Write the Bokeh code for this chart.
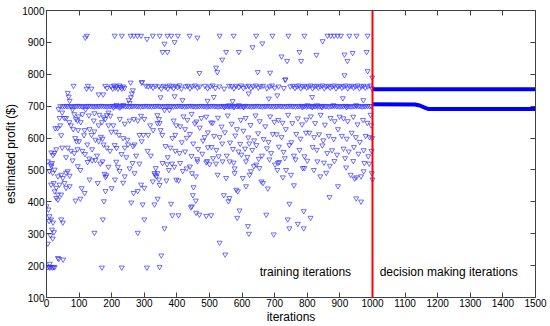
from bokeh.plotting import figure
from bokeh.models import LinearAxis, FixedTicker, Label, Span, Range1d
from bokeh.embed import file_html
from bokeh.resources import INLINE

# ---------------- data (iteration, estimated profit $) ----------------
top_pts = [
    (119, 915), (124, 921), (209, 921), (231, 921), (258, 921), (268, 921), (279, 921), (290, 921),
    (308, 911), (326, 921), (347, 921), (362, 896), (356, 870), (371, 870), (371, 921), (383, 921),
    (393, 901), (403, 921), (439, 921), (463, 915), (469, 804), (520, 821), (524, 807), (531, 921),
    (539, 846), (551, 870), (574, 921), (590, 870), (632, 885), (643, 921), (648, 807), (662, 897),
    (686, 805), (693, 921), (721, 856), (732, 783), (738, 842), (742, 921), (776, 870), (781, 842),
    (791, 921), (828, 861), (847, 904), (862, 921), (872, 921), (882, 921), (893, 921), (903, 921),
    (914, 862), (914, 797), (923, 842), (929, 921), (939, 867), (951, 921), (982, 870), (985, 921),
    (985, 810), (999, 790),
]

upper_pts = [
    (83, 764), (123, 755), (127, 764), (138, 755), (180, 764), (186, 757), (198, 762), (203, 755),
    (207, 765), (211, 758), (215, 762), (219, 755), (223, 765), (227, 760), (231, 755), (235, 762),
    (239, 757), (258, 774), (292, 774), (305, 764), (312, 762), (320, 764), (327, 758), (335, 764),
    (345, 762), (352, 755), (360, 764), (366, 760), (372, 755), (378, 765), (384, 762), (390, 756),
    (396, 764), (402, 760), (408, 765), (414, 755), (426, 762), (433, 764), (440, 756), (447, 762),
    (455, 765), (463, 758), (470, 762), (486, 764), (494, 756), (502, 762), (510, 765), (518, 757),
    (530, 762), (545, 755), (560, 764), (568, 762), (575, 756), (582, 764), (590, 760), (597, 765),
    (604, 757), (612, 762), (620, 764), (627, 756), (634, 762), (642, 765), (650, 758), (657, 762),
    (664, 764), (676, 756), (684, 762), (692, 765), (700, 758), (712, 762), (728, 757), (748, 762),
    (756, 764), (762, 757), (768, 762), (774, 765), (780, 756), (786, 762), (792, 764), (798, 758),
    (804, 762), (810, 765), (816, 756), (822, 762), (828, 764), (834, 758), (840, 762), (846, 765),
    (852, 756), (858, 762), (864, 764), (870, 758), (876, 762), (882, 765), (888, 756), (894, 762),
    (900, 764), (906, 758), (912, 762), (918, 765), (924, 756), (930, 762), (936, 764), (942, 758),
    (948, 762), (954, 765), (960, 756), (966, 762), (972, 764), (978, 758), (985, 762), (993, 765),
    (998, 756),
    # stragglers between the two bands
    (65, 742), (68, 730), (71, 717), (160, 737), (174, 737), (252, 719), (259, 728), (262, 740),
    (265, 750), (255, 710), (293, 776), (393, 731), (417, 719), (494, 717), (513, 729), (571, 716),
    (682, 724), (708, 734), (733, 784), (815, 729), (909, 725), (972, 719), (350, 728), (620, 740),
]

band_pts = [
    (42, 700), (49, 699), (55, 700), (61, 701), (66, 700), (73, 700), (78, 699), (84, 700), (90, 700), (95, 701),
    (101, 700), (107, 700), (112, 699), (118, 700), (124, 700), (129, 701), (135, 700), (141, 700), (146, 699), (152, 700),
    (158, 700), (163, 700), (169, 701), (175, 700), (180, 700), (186, 699), (192, 700), (197, 700), (203, 701), (209, 700),
    (214, 700), (220, 699), (226, 700), (231, 700), (237, 701), (243, 700), (248, 700), (254, 699), (260, 700), (265, 700),
    (271, 701), (277, 700), (282, 700), (288, 699), (294, 700), (299, 700), (305, 701), (311, 700), (316, 700), (322, 699),
    (328, 700), (333, 700), (339, 701), (345, 700), (350, 700), (356, 699), (362, 700), (367, 700), (373, 701), (379, 700),
    (384, 700), (390, 699), (396, 700), (401, 700), (407, 701), (413, 700), (418, 700), (424, 699), (430, 700), (435, 700),
    (441, 701), (447, 700), (452, 700), (458, 699), (464, 700), (469, 700), (475, 701), (481, 700), (486, 700), (492, 699),
    (498, 700), (503, 700), (509, 701), (515, 700), (520, 700), (526, 699), (532, 700), (537, 700), (543, 701), (549, 700),
    (554, 700), (560, 699), (566, 700), (571, 700), (577, 701), (583, 700), (588, 700), (594, 699), (600, 700), (605, 700),
    (611, 701), (617, 700), (622, 700), (628, 699), (634, 700), (639, 700), (645, 701), (651, 700), (656, 700), (662, 699),
    (668, 700), (673, 700), (679, 701), (685, 700), (690, 700), (696, 699), (702, 700), (707, 700), (713, 701), (719, 700),
    (724, 700), (730, 699), (736, 700), (741, 700), (747, 701), (753, 700), (758, 700), (764, 699), (770, 700), (775, 700),
    (781, 701), (787, 700), (792, 700), (798, 699), (804, 700), (809, 700), (815, 701), (821, 700), (826, 700), (832, 699),
    (838, 700), (843, 700), (849, 701), (855, 700), (860, 700), (866, 699), (872, 700), (877, 700), (883, 701), (889, 700),
    (894, 700), (900, 699), (906, 700), (911, 700), (917, 701), (923, 700), (928, 700), (934, 699), (940, 700), (945, 700),
    (951, 701), (957, 700), (962, 700), (968, 699), (974, 700), (979, 700), (985, 701), (991, 700), (996, 700),
    (205, 696), (215, 704), (225, 696), (235, 704), (545, 697), (560, 703), (575, 697), (590, 703), (605, 697),
    (785, 697), (800, 703), (815, 697), (830, 703), (845, 697), (880, 703), (920, 697), (950, 703),
]

low_pts = [
    # 0-50
    (3, 195), (7, 197), (10, 194), (14, 196), (18, 194), (22, 196), (25, 195), (10, 206), (35, 224), (38, 221),
    (51, 219), (4, 269), (19, 285), (12, 295), (23, 305), (17, 313), (8, 340), (14, 345), (20, 335), (45, 345),
    (50, 335), (0, 386), (6, 376), (9, 355), (4, 527), (14, 517), (25, 501), (35, 480), (45, 485), (40, 454),
    (30, 444), (25, 433), (35, 423), (30, 412), (35, 407), (45, 423), (14, 454), (9, 496), (19, 491), (22, 459),
    (15, 512), (17, 522), (20, 547), (24, 553), (37, 691), (40, 663), (27, 631), (34, 631), (45, 609), (15, 555),
    (30, 565), (48, 570), (42, 640), (48, 680),
    # 50-100
    (55, 459), (60, 491), (65, 496), (71, 482), (50, 475), (60, 444), (71, 449), (89, 404), (96, 512), (104, 500),
    (104, 410), (80, 690), (85, 675), (90, 660), (95, 655), (98, 668), (82, 628), (97, 625), (60, 663), (55, 663),
    (70, 650), (75, 640), (88, 600), (92, 590), (65, 570), (75, 560), (85, 553), (95, 565), (60, 540), (80, 530),
    (100, 590),
    # 100-200
    (108, 443), (117, 428), (126, 525), (132, 470), (140, 530), (150, 531), (157, 459), (147, 303), (172, 527), (173, 345),
    (170, 194), (176, 402), (178, 488), (181, 478), (184, 483), (181, 434), (200, 443), (110, 675), (130, 671), (147, 678),
    (162, 673), (117, 625), (132, 628), (147, 621), (115, 609), (118, 550), (131, 536), (160, 640), (170, 650), (175, 665),
    (180, 660), (185, 672), (190, 680), (196, 670), (167, 604), (172, 598), (190, 640), (199, 620), (138, 610), (150, 595),
    (160, 590), (175, 580), (185, 570), (195, 560), (125, 580), (140, 565), (110, 560), (155, 545), (165, 520), (190, 510),
    (105, 650), (120, 690), (145, 655),
    # 200-300
    (209, 578), (215, 569), (240, 570), (250, 580), (265, 575), (270, 580), (225, 660), (240, 645), (255, 655), (268, 660),
    (280, 655), (290, 670), (300, 660), (214, 526), (219, 510), (224, 497), (231, 194), (260, 398), (264, 522), (267, 428),
    (280, 434), (280, 303), (290, 454), (295, 392), (300, 444), (300, 345), (222, 610), (235, 600), (248, 595), (285, 610),
    (292, 590), (205, 640), (212, 620), (230, 550), (245, 540), (275, 545), (285, 520), (255, 505), (240, 480), (210, 470),
    (270, 490), (235, 460),
    # 300-400
    (308, 194), (297, 610), (312, 610), (327, 625), (326, 464), (331, 490), (333, 485), (337, 480), (331, 392), (340, 672),
    (345, 660), (347, 647), (340, 647), (350, 625), (355, 610), (362, 688), (377, 688), (386, 600), (335, 506), (340, 490),
    (345, 470), (347, 453), (356, 522), (370, 518), (375, 500), (368, 467), (341, 410), (382, 394), (386, 358), (352, 232),
    (347, 196), (362, 317), (390, 655), (380, 570), (395, 560), (310, 560), (320, 545), (365, 575), (372, 540), (385, 520),
    (395, 610), (398, 640), (318, 640), (392, 510), (398, 470),
    # 400-500
    (405, 358), (405, 467), (410, 522), (418, 497), (430, 505), (440, 511), (446, 490), (458, 480), (451, 446), (449, 421),
    (458, 404), (446, 386), (443, 383), (459, 366), (469, 360), (490, 356), (420, 668), (432, 657), (445, 676), (460, 652),
    (475, 663), (490, 667), (505, 649), (410, 637), (425, 628), (440, 613), (455, 646), (470, 633), (485, 603), (495, 618),
    (415, 587), (430, 601), (450, 583), (465, 566), (480, 592), (495, 571), (408, 553), (425, 558), (445, 544), (462, 534),
    (478, 551), (493, 528), (463, 527), (490, 524),
    # 500-600
    (505, 358), (500, 518), (520, 520), (525, 485), (531, 272), (540, 527), (548, 235), (551, 475), (544, 421), (558, 402),
    (561, 412), (577, 505), (577, 490), (582, 438), (587, 433), (585, 350), (592, 373), (510, 648), (526, 664), (537, 636),
    (556, 671), (568, 645), (584, 628), (596, 657), (514, 607), (531, 603), (547, 618), (563, 586), (579, 608), (594, 582),
    (506, 572), (521, 563), (539, 583), (553, 545), (572, 566), (589, 558), (511, 537), (528, 543), (562, 527), (574, 523),
    (598, 548),
    # 600-700
    (602, 475), (612, 527), (612, 449), (618, 324), (621, 300), (623, 485), (627, 496), (636, 512), (643, 517), (653, 506),
    (659, 464), (664, 459), (674, 360), (679, 442), (697, 298), (611, 663), (626, 641), (641, 671), (654, 653), (671, 637),
    (686, 668), (699, 651), (604, 623), (619, 602), (637, 593), (649, 615), (666, 597), (681, 588), (694, 613), (609, 567),
    (631, 563), (644, 578), (661, 545), (676, 568), (689, 553), (616, 541), (651, 535), (684, 533), (701, 517), (622, 583),
    # 700-800
    (710, 522), (714, 525), (725, 477), (745, 394), (740, 345), (745, 317), (750, 485), (759, 452), (771, 331), (786, 506),
    (791, 506), (789, 371), (789, 317), (800, 529), (711, 657), (724, 648), (741, 673), (754, 647), (771, 662), (784, 643),
    (797, 658), (706, 612), (721, 603), (734, 628), (751, 587), (766, 613), (779, 598), (796, 617), (713, 573), (727, 557),
    (745, 578), (759, 545), (776, 563), (791, 543), (731, 537), (764, 533), (708, 500), (735, 500),
    # 800-900
    (810, 350), (858, 491), (868, 415), (883, 528), (894, 449), (811, 668), (824, 647), (841, 673), (854, 642), (871, 663),
    (884, 653), (899, 667), (806, 617), (821, 603), (836, 612), (849, 593), (866, 607), (881, 597), (894, 628), (816, 572),
    (829, 563), (846, 577), (861, 553), (876, 562), (891, 548), (831, 527), (851, 523), (869, 513), (840, 480), (820, 500),
    # 900-1000
    (919, 508), (933, 485), (945, 473), (950, 477), (965, 480), (973, 496), (975, 522), (950, 411), (965, 401), (911, 662),
    (924, 653), (941, 667), (954, 643), (971, 657), (984, 648), (994, 673), (906, 607), (921, 598), (936, 617), (949, 603),
    (961, 588), (979, 607), (991, 603), (911, 567), (927, 558), (943, 572), (957, 551), (973, 562), (987, 543), (916, 537),
    (941, 528), (990, 520), (998, 490), (1000, 470), (997, 560), (999, 600), (996, 640),
]

# decision making phase: the two settled estimates (breakpoints)
dm_upper_x = [1000, 1500]
dm_upper_y = [753, 753]
dm_lower_x = [1000, 1130, 1145, 1158, 1172, 1500]
dm_lower_y = [706, 705, 702, 696, 691, 691]

x_ticks = list(range(0, 1501, 100))
y_ticks = list(range(100, 1001, 100))
split_iteration = 1000

# ---------------- figure ----------------
FONT = "Liberation Sans"
FRAME = "#404040"

p = figure(width=550, height=326, x_range=Range1d(0, 1500), y_range=Range1d(100, 1000),
           output_backend="svg", toolbar_location=None,
           min_border_left=46, min_border_right=15, min_border_top=10, min_border_bottom=28)
p.grid.visible = False
p.outline_line_color = FRAME
p.outline_line_width = 1
p.background_fill_color = "white"
p.border_fill_color = "white"

for ax in (p.xaxis[0], p.yaxis[0]):
    ax.major_tick_in = 5
    ax.major_tick_out = 0
    ax.minor_tick_line_color = None
    ax.axis_line_color = FRAME
    ax.major_tick_line_color = FRAME
    ax.major_label_text_font = FONT
    ax.major_label_text_font_size = "10px"
    ax.major_label_text_color = "black"
    ax.axis_label_text_font = FONT
    ax.axis_label_text_font_size = "12px"
    ax.axis_label_text_font_style = "normal"
    ax.axis_label_text_color = "black"

p.xaxis.ticker = FixedTicker(ticks=x_ticks)
p.yaxis.ticker = FixedTicker(ticks=y_ticks)
p.xaxis.axis_label = "iterations"
p.yaxis.axis_label = "estimated profit ($)"
p.xaxis.major_label_standoff = 1
p.xaxis.axis_label_standoff = 0
p.yaxis.major_label_standoff = 2
p.yaxis.axis_label_standoff = 1

top_ax = LinearAxis(ticker=FixedTicker(ticks=x_ticks))
right_ax = LinearAxis(ticker=FixedTicker(ticks=y_ticks))
for ax in (top_ax, right_ax):
    ax.major_tick_in = 5
    ax.major_tick_out = 0
    ax.minor_tick_line_color = None
    ax.axis_line_color = FRAME
    ax.major_tick_line_color = FRAME
    ax.major_label_text_font_size = "0px"
    ax.major_label_standoff = 0
    ax.major_label_text_alpha = 0
p.add_layout(top_ax, "above")
p.add_layout(right_ax, "right")

all_pts = top_pts + upper_pts + band_pts + low_pts
xs = [a for a, b in all_pts]
ys = [b for a, b in all_pts]
p.scatter(xs, ys, marker="inverted_triangle", size=5, line_color="#3030ff",
          line_width=0.7, fill_color=None)

p.line(dm_upper_x, dm_upper_y, line_color="#0000ff", line_width=4)
p.line(dm_lower_x, dm_lower_y, line_color="#0000ff", line_width=4)

p.add_layout(Span(location=split_iteration, dimension="height", line_color="#ff0000", line_width=2))

p.add_layout(Label(x=654, y=181, text="training iterations", text_font=FONT,
                   text_font_size="12px", text_baseline="middle", text_color="black"))
p.add_layout(Label(x=1022, y=181, text="decision making iterations", text_font=FONT,
                   text_font_size="12px", text_baseline="middle", text_color="black"))

open("out.html", "w").write(file_html(p, INLINE))
